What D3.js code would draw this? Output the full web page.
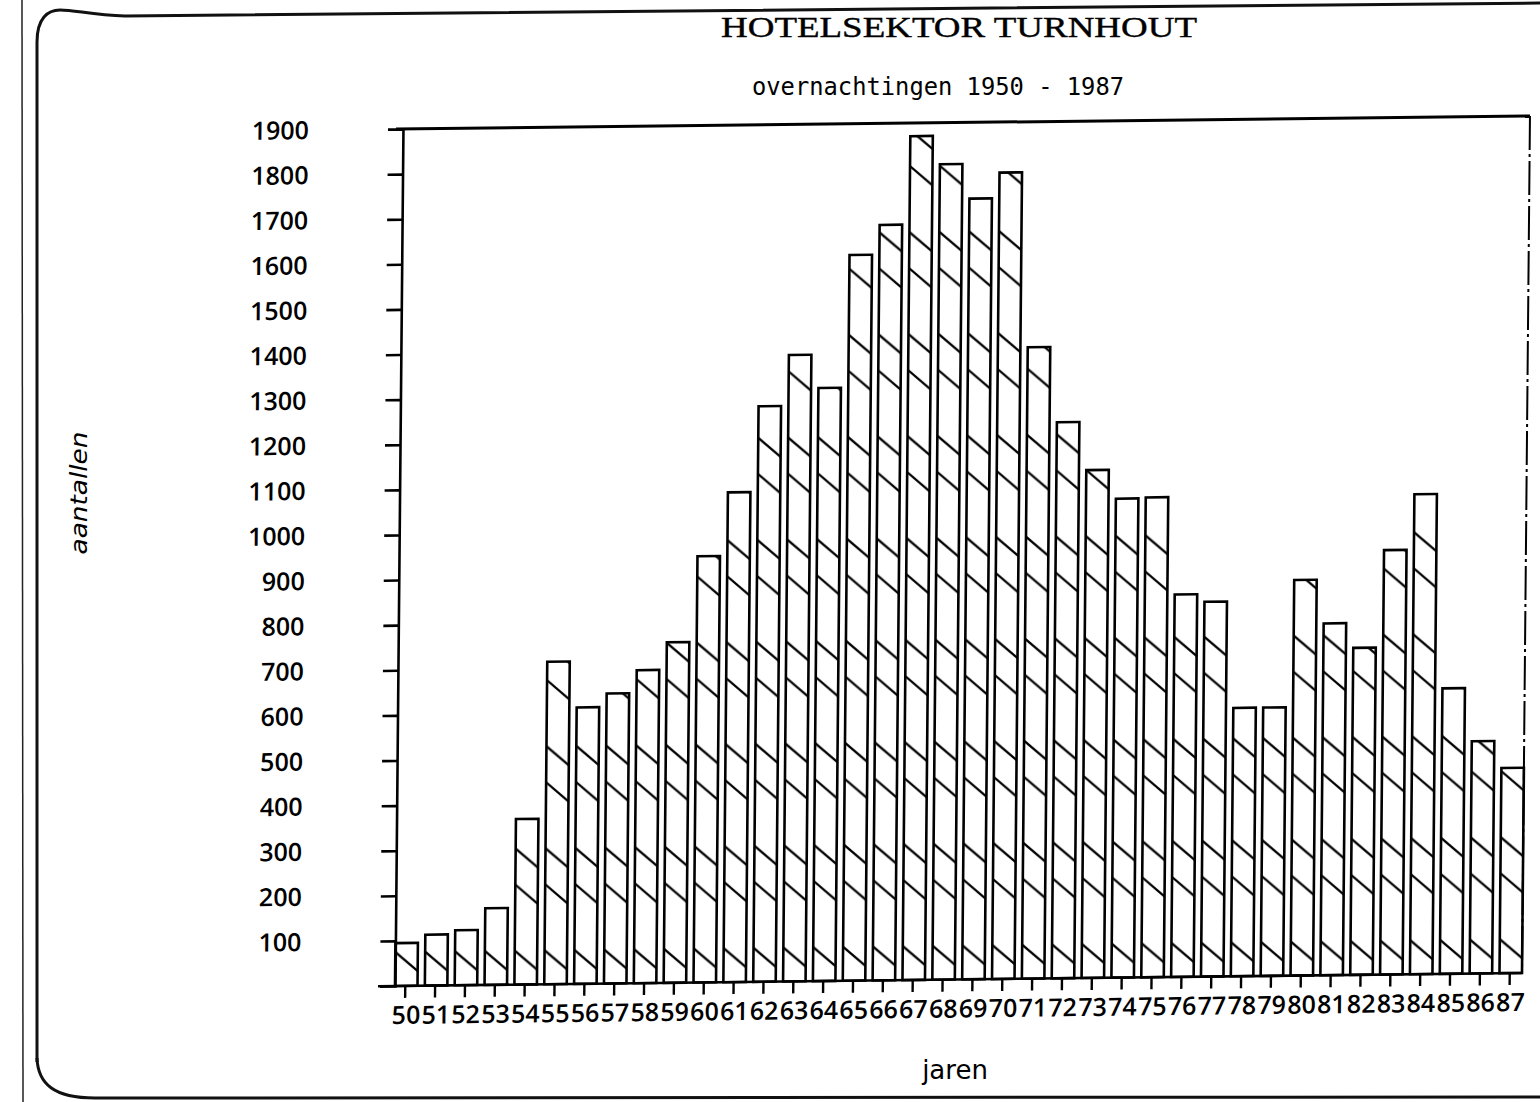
<!DOCTYPE html>
<html>
<head>
<meta charset="utf-8">
<script src="https://cdn.jsdelivr.net/npm/d3@7"></script>
<style>
  body { margin: 0; background: #fff; }
  svg { display: block; }
</style>
</head>
<body>
<div id="chart"></div>
<script>
// [1] DATA
const years = ['50', '51', '52', '53', '54', '55', '56', '57', '58', '59',
  '60', '61', '62', '63', '64', '65', '66', '67', '68', '69',
  '70', '71', '72', '73', '74', '75', '76', '77', '78', '79',
  '80', '81', '82', '83', '84', '85', '86', '87'];

// overnachtingen per jaar (x 1000)
const overnachtingen = [95, 113, 122, 170, 367, 715, 613, 643, 694, 755,
  945, 1086, 1276, 1389, 1315, 1609, 1675, 1871, 1808, 1731,
  1788, 1400, 1233, 1126, 1062, 1064, 848, 831, 595, 595,
  877, 780, 725, 941, 1064, 633, 515, 455];

const yTicks = [100, 200, 300, 400, 500, 600, 700, 800, 900, 1000,
  1100, 1200, 1300, 1400, 1500, 1600, 1700, 1800, 1900];

const title = 'HOTELSEKTOR TURNHOUT';
const subtitle = 'overnachtingen 1950 - 1987';
const yTitle = 'aantallen';
const xTitle = 'jaren';

// [2] DIMENSIONS
const dimensions = {
  width: 1540,
  height: 1102,
  left: 395,      // y axis
  right: 1522,    // right edge of last bar
  top: 129,       // 1900 line
  bottom: 986,    // zero line
};

// [3] DRAW IMAGE
const svg = d3.select('#chart')
  .append('svg')
  .attr('width', dimensions.width)
  .attr('height', dimensions.height);

// page frame of the scanned sheet
svg.append('path')
  .attr('d', 'M37,1062 L37,42 C37,18 48,10 60,10 C75,10 92,15 125,16 L1540,3')
  .attr('fill', 'none')
  .attr('stroke', '#111')
  .attr('stroke-width', 3);
svg.append('path')
  .attr('d', 'M37,1058 C38,1084 54,1098 95,1098 L1540,1097')
  .attr('fill', 'none')
  .attr('stroke', '#111')
  .attr('stroke-width', 3);
svg.append('line')
  .attr('x1', 22).attr('x2', 23).attr('y1', 0).attr('y2', 1102)
  .attr('stroke', '#222')
  .attr('stroke-width', 1.5);

// titles
svg.append('text')
  .attr('x', 721).attr('y', 37)
  .attr('textLength', 476)
  .attr('lengthAdjust', 'spacingAndGlyphs')
  .style('font-family', '"Liberation Serif", serif')
  .style('font-size', '30px')
  .attr('stroke', '#000').attr('stroke-width', 0.4)
  .text(title);

svg.append('text')
  .attr('x', 752).attr('y', 95)
  .attr('textLength', 372)
  .attr('lengthAdjust', 'spacingAndGlyphs')
  .style('font-family', '"DejaVu Sans Mono", monospace')
  .style('font-size', '24px')
  .text(subtitle);

svg.append('text')
  .attr('transform', 'translate(87,493) rotate(-90)')
  .attr('text-anchor', 'middle')
  .attr('textLength', 123)
  .attr('lengthAdjust', 'spacingAndGlyphs')
  .style('font-family', '"DejaVu Sans", sans-serif')
  .style('font-style', 'oblique')
  .style('font-size', '23px')
  .text(yTitle);

svg.append('text')
  .attr('x', 955).attr('y', 1079)
  .attr('text-anchor', 'middle')
  .style('font-family', '"DejaVu Sans", sans-serif')
  .style('font-size', '26px')
  .text(xTitle);

// the scan is slightly skewed, so the plot gets the same small shear
const x0 = dimensions.left;
const y0 = dimensions.bottom;
const plot = svg.append('g')
  .attr('transform', `translate(${x0},${y0}) matrix(1,-0.0116,-0.0093,1,0,0) translate(${-x0},${-y0})`);

// [4] SCALES
const xScale = d3.scaleBand()
  .domain(years)
  .range([dimensions.left, dimensions.right])
  .paddingInner(0.246)
  .paddingOuter(0);

const yScale = d3.scaleLinear()
  .domain([0, 1900])
  .range([dimensions.bottom, dimensions.top]);

// [5] HATCH PATTERN ("\" strokes, two per 102px, aligned over all bars)
const bw = xScale.bandwidth();
const hatch = svg.append('defs').append('pattern')
  .attr('id', 'hatch')
  .attr('patternUnits', 'userSpaceOnUse')
  .attr('x', xScale(years[0]))
  .attr('y', yScale(0))
  .attr('width', xScale.step())
  .attr('height', 102);
hatch.selectAll('line')
  .data([2, 68])
  .join('line')
  .attr('x1', 0).attr('x2', bw)
  .attr('y1', (d) => d).attr('y2', (d) => d + 0.86 * bw)
  .attr('stroke', '#000')
  .attr('stroke-width', 2.2);

// [6] BARS
plot.append('g')
  .selectAll('rect')
  .data(overnachtingen)
  .join('rect')
  .attr('x', (d, i) => xScale(years[i]))
  .attr('y', (d) => yScale(d))
  .attr('width', bw)
  .attr('height', (d) => yScale(0) - yScale(d))
  .attr('fill', 'url(#hatch)')
  .attr('stroke', '#000')
  .attr('stroke-width', 2.6);

// [7] FRAME
plot.append('line')
  .attr('x1', dimensions.left - 7).attr('x2', dimensions.right)
  .attr('y1', yScale(1900)).attr('y2', yScale(1900))
  .attr('stroke', '#000').attr('stroke-width', 3);
plot.append('line')
  .attr('x1', dimensions.right).attr('x2', dimensions.right)
  .attr('y1', yScale(1900)).attr('y2', yScale(0))
  .attr('stroke', '#000').attr('stroke-width', 2)
  .attr('stroke-dasharray', '34,4,3,4');

// [8] AXES
const yAxis = d3.axisLeft(yScale)
  .tickValues(yTicks.filter((d) => d < 1900))
  .tickSize(15)
  .tickFormat('');
const yAxisG = plot.append('g')
  .attr('transform', `translate(${dimensions.left},0)`)
  .call(yAxis);
yAxisG.select('.domain').attr('stroke-width', 2.6);
yAxisG.selectAll('.tick line').attr('stroke-width', 2.6);

// y labels
plot.append('g')
  .selectAll('text')
  .data(yTicks)
  .join('text')
  .attr('x', 301)
  .attr('y', (d) => yScale(d))
  .attr('dy', '0.36em')
  .attr('text-anchor', 'end')
  .style('font-family', '"Open Sans", sans-serif')
  .style('font-weight', 600)
  .style('font-size', '25px')
  .text((d) => d);

// x axis line, extended a little to the left like the original
plot.append('line')
  .attr('x1', dimensions.left - 17).attr('x2', dimensions.right)
  .attr('y1', yScale(0)).attr('y2', yScale(0))
  .attr('stroke', '#000').attr('stroke-width', 2.6);

const xAxis = d3.axisBottom(xScale).tickSize(12).tickFormat('');
const xAxisG = plot.append('g')
  .attr('transform', `translate(0,${yScale(0)})`)
  .call(xAxis);
xAxisG.select('.domain').remove();
xAxisG.selectAll('.tick line').attr('stroke-width', 2.4).attr('transform', 'translate(-1,0)');

plot.append('g')
  .selectAll('text')
  .data(years)
  .join('text')
  .attr('x', (d) => xScale(d) + bw / 2)
  .attr('y', yScale(0) + 38)
  .attr('text-anchor', 'middle')
  .style('font-family', '"Open Sans", sans-serif')
  .style('font-weight', 600)
  .style('font-size', '25px')
  .text((d) => d);
</script>
</body>
</html>
